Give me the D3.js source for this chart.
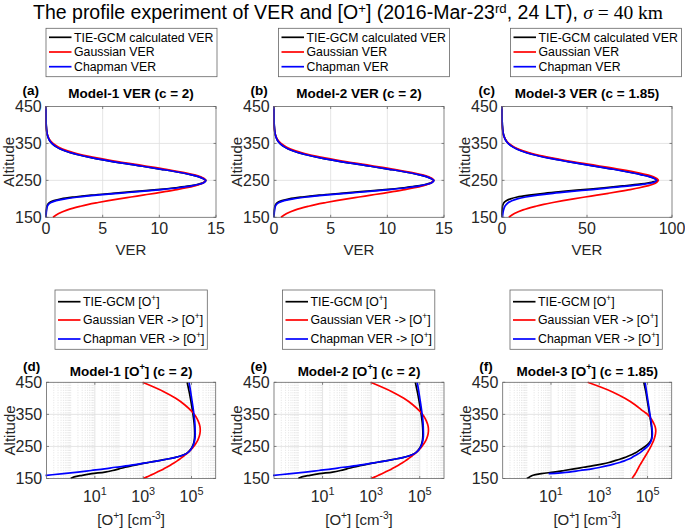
<!DOCTYPE html>
<html><head><meta charset="utf-8">
<script src="https://cdn.jsdelivr.net/npm/d3@7"></script>
<style>
body{margin:0;background:#fff}
text{font-family:"Liberation Sans",Arial,Helvetica,sans-serif}
</style>
</head><body>
<svg id="c" width="685" height="532" xmlns="http://www.w3.org/2000/svg"></svg>
<script>
// ---------------- DATA ----------------
const altVER = [150,160,170,180,185,190,195,200,205,210,215,220,225,230,235,240,245,250,255,260,265,270,280,290,300,310,320,330,340,350,360,370,380,400,420,450];

const verTIE1 = [0,0.01,0.03,0.08,0.15,0.32,0.7,1.35,2.5,4.0,5.9,7.9,9.8,11.4,12.7,13.5,13.95,14.1,13.85,13.45,12.85,12.1,10.2,8.15,6.05,4.2,2.75,1.65,0.95,0.52,0.28,0.15,0.08,0.02,0.01,0];
const verGau1 = [0.62,1.12,1.9,3.05,3.75,4.6,5.5,6.45,7.5,8.55,9.6,10.6,11.55,12.4,13.1,13.65,13.95,14.1,13.95,13.65,13.1,12.4,10.6,8.55,6.45,4.6,3.05,1.9,1.12,0.62,0.32,0.16,0.07,0.01,0,0];
const verCha1 = [0,0.02,0.05,0.12,0.22,0.45,0.9,1.7,2.9,4.5,6.4,8.4,10.2,11.7,12.85,13.6,14.0,14.1,13.85,13.45,12.85,12.1,10.2,8.15,6.05,4.2,2.75,1.65,0.95,0.52,0.28,0.15,0.08,0.02,0.01,0];

const verTIE2 = [0,0.01,0.03,0.08,0.15,0.32,0.7,1.35,2.5,4.0,5.9,7.9,9.8,11.4,12.7,13.5,13.95,14.1,13.85,13.45,12.85,12.1,10.2,8.15,6.05,4.2,2.75,1.65,0.95,0.52,0.28,0.15,0.08,0.02,0.01,0];
const verGau2 = [0.62,1.12,1.9,3.05,3.75,4.6,5.5,6.45,7.5,8.55,9.6,10.6,11.55,12.4,13.1,13.65,13.95,14.1,13.95,13.65,13.1,12.4,10.6,8.55,6.45,4.6,3.05,1.9,1.12,0.62,0.32,0.16,0.07,0.01,0,0];
const verCha2 = [0,0.02,0.05,0.12,0.22,0.45,0.9,1.7,2.9,4.5,6.4,8.4,10.2,11.7,12.85,13.6,14.0,14.1,13.85,13.45,12.85,12.1,10.2,8.15,6.05,4.2,2.75,1.65,0.95,0.52,0.28,0.15,0.08,0.02,0.01,0];

const verTIE3 = [0,0,0.1,0.3,0.6,1.2,2.5,5,9,16,25,36,48,60,71,81,88,91.5,90,87,82.5,77.5,66,53,40,28,18.5,11.3,6.7,3.7,2.1,1.2,0.65,0.2,0.05,0];
const verGau3 = [4.0,7.3,12.4,19.9,24.5,30,35.9,42.1,48.9,55.8,62.6,69.2,75.4,80.9,85.5,89.1,91.0,92.0,91.0,89.1,85.5,80.9,69.2,55.8,42.1,30,19.9,12.4,7.3,4.0,2.1,1.0,0.5,0.1,0,0];
const verCha3 = [0.3,0.5,0.9,1.7,2.6,3.8,5.8,9,14,21,30,41,53,64,75,84,89.5,91,89.5,86.5,82,77,65.5,52.5,39.5,27.5,18,11,6.5,3.6,2,1.1,0.6,0.2,0.05,0];

const altO = [150,155,160,165,170,175,180,185,190,195,200,205,210,215,220,225,230,240,250,260,270,280,290,300,310,320,330,340,350,360,380,400,420,450];

const oTIE1 = [1.0,1.4,3.0,7.5,26,55,100,180,350,720,1650,4000,9000,20000,35000,51000,67000,91000,109000,122000,130000,134000,135000,134000,132000,129000,125000,120000,115000,110000,100000,90000,80000,66000];
const oGau1 = [1000,1430,2000,2790,3840,5210,7000,9270,12200,15700,20100,25500,31800,39400,48000,57800,68900,94400,123000,153000,182000,206000,222000,229000,225000,210000,187000,160000,129000,100000,51800,22200,7500,950];
const oCha1 = [0.003,0.02,0.1,0.5,2,7,25,70,250,630,1600,4000,9000,20000,35000,52000,68000,93000,112000,126000,135000,141000,142000,141000,140000,138000,135000,131000,126000,121000,111000,101000,92000,79000];

const oTIE2 = [1.0,1.4,3.0,7.5,26,55,100,180,350,720,1650,4000,9000,20000,35000,51000,67000,91000,109000,122000,130000,134000,135000,134000,132000,129000,125000,120000,115000,110000,100000,90000,80000,66000];
const oGau2 = [1000,1430,2000,2790,3840,5210,7000,9270,12200,15700,20100,25500,31800,39400,48000,57800,68900,94400,123000,153000,182000,206000,222000,229000,225000,210000,187000,160000,129000,100000,51800,22200,7500,950];
const oCha2 = [0.003,0.02,0.1,0.5,2,7,25,70,250,630,1600,4000,9000,20000,35000,52000,68000,93000,112000,126000,135000,141000,142000,141000,140000,138000,135000,131000,126000,121000,111000,101000,92000,79000];

const oTIE3 = [1.0,1.3,1.8,4,13,35,90,220,560,1260,2500,4200,7000,11000,16000,23000,32000,50000,80000,112000,140000,150000,152000,150000,146000,140000,134000,127000,121000,115000,104000,94000,85000,70000];
const oGau3 = [22900,25100,28200,30900,33900,36700,39800,43200,46800,51300,56200,61700,67600,74100,81300,89100,97700,117000,138000,158000,182000,200000,214000,219000,209000,186000,158000,129000,100000,66100,30200,11500,3550,331];
const oCha3 = [null,null,null,8,56,160,500,1100,2200,4000,7000,11000,16000,22000,28000,37000,48000,70000,100000,126000,145000,155000,158000,155000,150000,145000,138000,132000,126000,120000,110000,100000,91000,79000];

const altTicks = [150,250,350,450];
const verTicks12 = [0,5,10,15];
const verTicks3 = [0,50,100];
const oTicks = [10,1000,100000];
const verNames = ["TIE-GCM calculated VER","Gaussian VER","Chapman VER"];
const oNames = [[{t:"TIE-GCM [O"},{t:"+",sup:1},{t:"]"}],
                [{t:"Gaussian VER -> [O"},{t:"+",sup:1},{t:"]"}],
                [{t:"Chapman VER -> [O"},{t:"+",sup:1},{t:"]"}]];
const seriesColors = ["#000000","#ff0000","#0000ff"];

// ---------------- DRAWING ----------------
const svg = d3.select("#c");
svg.append("rect").attr("width",685).attr("height",532).attr("fill","#fff");

function rich(sel, parts, F, raise){
  const r = raise || 0.42;
  let up = false;
  parts.forEach(p=>{
    const ts = sel.append("tspan").text(p.t);
    if(p.sup){ ts.attr("font-size",F*0.68); if(!up){ ts.attr("dy",-r*F); up=true; } }
    else if(up){ ts.attr("dy",r*F); up=false; }
    if(p.family) ts.attr("font-family",p.family);
    if(p.italic) ts.attr("font-style","italic");
  });
}

const axC = "#666";
let clipN = 0;
function panel(o){
  const g = svg.append("g");
  const x = (o.log ? d3.scaleLog() : d3.scaleLinear()).domain(o.xDomain).range([o.l,o.r]);
  const y = d3.scaleLinear().domain([150,450]).range([o.b,o.t]);
  const gridC = "#dedede";
  if(o.log){
    const minors = [];
    for(let k=-1;k<=5;k++) for(let n=1;n<=9;n++){
      const v = n*Math.pow(10,k);
      if(v<=o.xDomain[0]||v>=o.xDomain[1]) continue;
      if(o.xTicks.some(t=>Math.abs(t-v)/t<1e-9)) continue;
      minors.push(v);
    }
    g.selectAll(".mg").data(minors).enter().append("line")
      .attr("x1",d=>x(d)).attr("x2",d=>x(d)).attr("y1",o.t).attr("y2",o.b)
      .attr("stroke","#cfcfcf").attr("stroke-width",0.6).attr("stroke-dasharray","1,1.5");
  }
  g.selectAll(".gx").data(o.xTicks.filter(v=>x(v)>o.l+1&&x(v)<o.r-1)).enter().append("line")
    .attr("x1",d=>x(d)).attr("x2",d=>x(d)).attr("y1",o.t).attr("y2",o.b)
    .attr("stroke",gridC).attr("stroke-width",0.8);
  g.selectAll(".gy").data(altTicks.filter(v=>v>150&&v<450)).enter().append("line")
    .attr("y1",d=>y(d)).attr("y2",d=>y(d)).attr("x1",o.l).attr("x2",o.r)
    .attr("stroke",gridC).attr("stroke-width",0.8);
  const cid = "clp"+(clipN++);
  svg.append("clipPath").attr("id",cid).append("rect")
    .attr("x",o.l-1).attr("y",o.t-1).attr("width",o.r-o.l+2).attr("height",o.b-o.t+2);
  const line = d3.line().defined(d=>d.v!=null).x(d=>x(d.v)).y(d=>y(d.z)).curve(d3.curveCatmullRom.alpha(0.5));
  const lg = g.append("g").attr("clip-path","url(#"+cid+")");
  o.series.forEach((s,i)=>{
    const pts = o.alt.map((z,j)=>({z:z,v:s[j]}));
    lg.append("path").attr("d",line(pts)).attr("fill","none")
      .attr("stroke",seriesColors[i]).attr("stroke-width",1.7).attr("stroke-linejoin","round");
  });
  g.append("rect").attr("x",o.l).attr("y",o.t).attr("width",o.r-o.l).attr("height",o.b-o.t)
    .attr("fill","none").attr("stroke",axC).attr("stroke-width",0.8);
  const tl = 2.5;
  o.xTicks.forEach(v=>{
    const xv = x(v);
    g.append("line").attr("x1",xv).attr("x2",xv).attr("y1",o.b).attr("y2",o.b-tl).attr("stroke",axC).attr("stroke-width",0.8);
    g.append("line").attr("x1",xv).attr("x2",xv).attr("y1",o.t).attr("y2",o.t+tl).attr("stroke",axC).attr("stroke-width",0.8);
    const t = g.append("text").attr("x",xv).attr("y",o.b+(o.log?23:16.5)).attr("text-anchor","middle")
      .attr("font-size",16).attr("fill","#262626");
    if(o.log){ rich(t,[{t:"10"},{t:String(Math.round(Math.log10(v))),sup:1}],16); }
    else t.text(v);
  });
  altTicks.forEach(v=>{
    const yv = y(v);
    g.append("line").attr("x1",o.l).attr("x2",o.l+tl).attr("y1",yv).attr("y2",yv).attr("stroke",axC).attr("stroke-width",0.8);
    g.append("line").attr("x1",o.r).attr("x2",o.r-tl).attr("y1",yv).attr("y2",yv).attr("stroke",axC).attr("stroke-width",0.8);
    g.append("text").attr("x",o.l-4.3).attr("y",yv+5.6).attr("text-anchor","end")
      .attr("font-size",16).attr("fill","#262626").text(v);
  });
  g.append("text").attr("transform","translate("+(o.l-32)+","+((o.t+o.b)/2)+") rotate(-90)")
    .attr("text-anchor","middle").attr("font-size",15).attr("fill","#262626").text("Altitude");
  const xl = g.append("text").attr("x",(o.l+o.r)/2).attr("y",o.b+(o.log?46.5:38))
    .attr("text-anchor","middle").attr("font-size",15).attr("fill","#262626");
  rich(xl,o.xLabel,15);
  const tt = g.append("text").attr("x",(o.l+o.r)/2).attr("y",o.titleY).attr("text-anchor","middle")
    .attr("font-size",13.5).attr("font-weight","bold").attr("fill","#000");
  rich(tt,o.title,13.5);
  g.append("text").attr("x",o.l-23.5).attr("y",o.labelY).attr("font-size",13.5)
    .attr("font-weight","bold").attr("fill","#000").text(o.label);
  const L = o.legend;
  g.append("rect").attr("x",L.x).attr("y",L.y).attr("width",L.w).attr("height",L.h)
    .attr("fill","#fff").attr("stroke",axC).attr("stroke-width",0.8);
  o.names.forEach((nm,i)=>{
    const ly = L.y + L.rows[i];
    g.append("line").attr("x1",L.x+3).attr("x2",L.x+25.5).attr("y1",ly).attr("y2",ly)
      .attr("stroke",seriesColors[i]).attr("stroke-width",1.7);
    const t = g.append("text").attr("x",L.x+28).attr("y",ly+4.3).attr("font-size",12.3).attr("fill","#000");
    if(typeof nm==="string") t.text(nm); else rich(t,nm,12.3);
  });
}

const topT = 106.5, topB = 217.3, botT = 382.3, botB = 478.5;
const verLabel = [{t:"VER"}];
const oLabel = [{t:"[O"},{t:"+",sup:1},{t:"] [cm"},{t:"-3",sup:1},{t:"]"}];
const topRows = [9,23.7,38.4], botRows = [11.7,30,49];

panel({l:46,r:216,t:topT,b:topB,xDomain:[0,15],xTicks:verTicks12,alt:altVER,series:[verTIE1,verGau1,verCha1],
  title:[{t:"Model-1 VER (c = 2)"}],label:"(a)",titleY:98,labelY:94.5,xLabel:verLabel,names:verNames,
  legend:{x:46,y:28.3,w:171,h:48.4,rows:topRows}});
panel({l:274,r:444,t:topT,b:topB,xDomain:[0,15],xTicks:verTicks12,alt:altVER,series:[verTIE2,verGau2,verCha2],
  title:[{t:"Model-2 VER (c = 2)"}],label:"(b)",titleY:98,labelY:94.5,xLabel:verLabel,names:verNames,
  legend:{x:278.5,y:28.3,w:171,h:48.4,rows:topRows}});
panel({l:502,r:672,t:topT,b:topB,xDomain:[0,100],xTicks:verTicks3,alt:altVER,series:[verTIE3,verGau3,verCha3],
  title:[{t:"Model-3 VER (c = 1.85)"}],label:"(c)",titleY:98,labelY:94.5,xLabel:verLabel,names:verNames,
  legend:{x:510.5,y:28.3,w:171,h:48.4,rows:topRows}});

panel({l:46.5,r:215.7,t:botT,b:botB,log:true,xDomain:[0.1,1e6],xTicks:oTicks,alt:altO,series:[oTIE1,oGau1,oCha1],
  title:[{t:"Model-1 [O"},{t:"+",sup:1},{t:"] (c = 2)"}],label:"(d)",titleY:375.5,labelY:370.5,xLabel:oLabel,names:oNames,
  legend:{x:55,y:290,w:152.3,h:59.3,rows:botRows}});
panel({l:274,r:444,t:botT,b:botB,log:true,xDomain:[0.1,1e6],xTicks:oTicks,alt:altO,series:[oTIE2,oGau2,oCha2],
  title:[{t:"Model-2 [O"},{t:"+",sup:1},{t:"] (c = 2)"}],label:"(e)",titleY:375.5,labelY:370.5,xLabel:oLabel,names:oNames,
  legend:{x:282.5,y:290,w:152.3,h:59.3,rows:botRows}});
panel({l:502.7,r:671.7,t:botT,b:botB,log:true,xDomain:[0.1,1e6],xTicks:oTicks,alt:altO,series:[oTIE3,oGau3,oCha3],
  title:[{t:"Model-3 [O"},{t:"+",sup:1},{t:"] (c = 1.85)"}],label:"(f)",titleY:375.5,labelY:370.5,xLabel:oLabel,names:oNames,
  legend:{x:510,y:290,w:152.3,h:59.3,rows:botRows}});

const mt = svg.append("text").attr("x",348).attr("y",18.5).attr("text-anchor","middle")
  .attr("font-size",19.5).attr("fill","#000");
rich(mt,[{t:"The profile experiment of VER and [O"},{t:"+",sup:1},{t:"] (2016-Mar-23"},{t:"rd",sup:1},
  {t:", 24 LT), "},{t:"σ",italic:1,family:"'Liberation Serif','DejaVu Serif',serif"},
  {t:" = 40 km",family:"'Liberation Serif','DejaVu Serif',serif"}],19.5,0.3);
</script>
</body></html>
